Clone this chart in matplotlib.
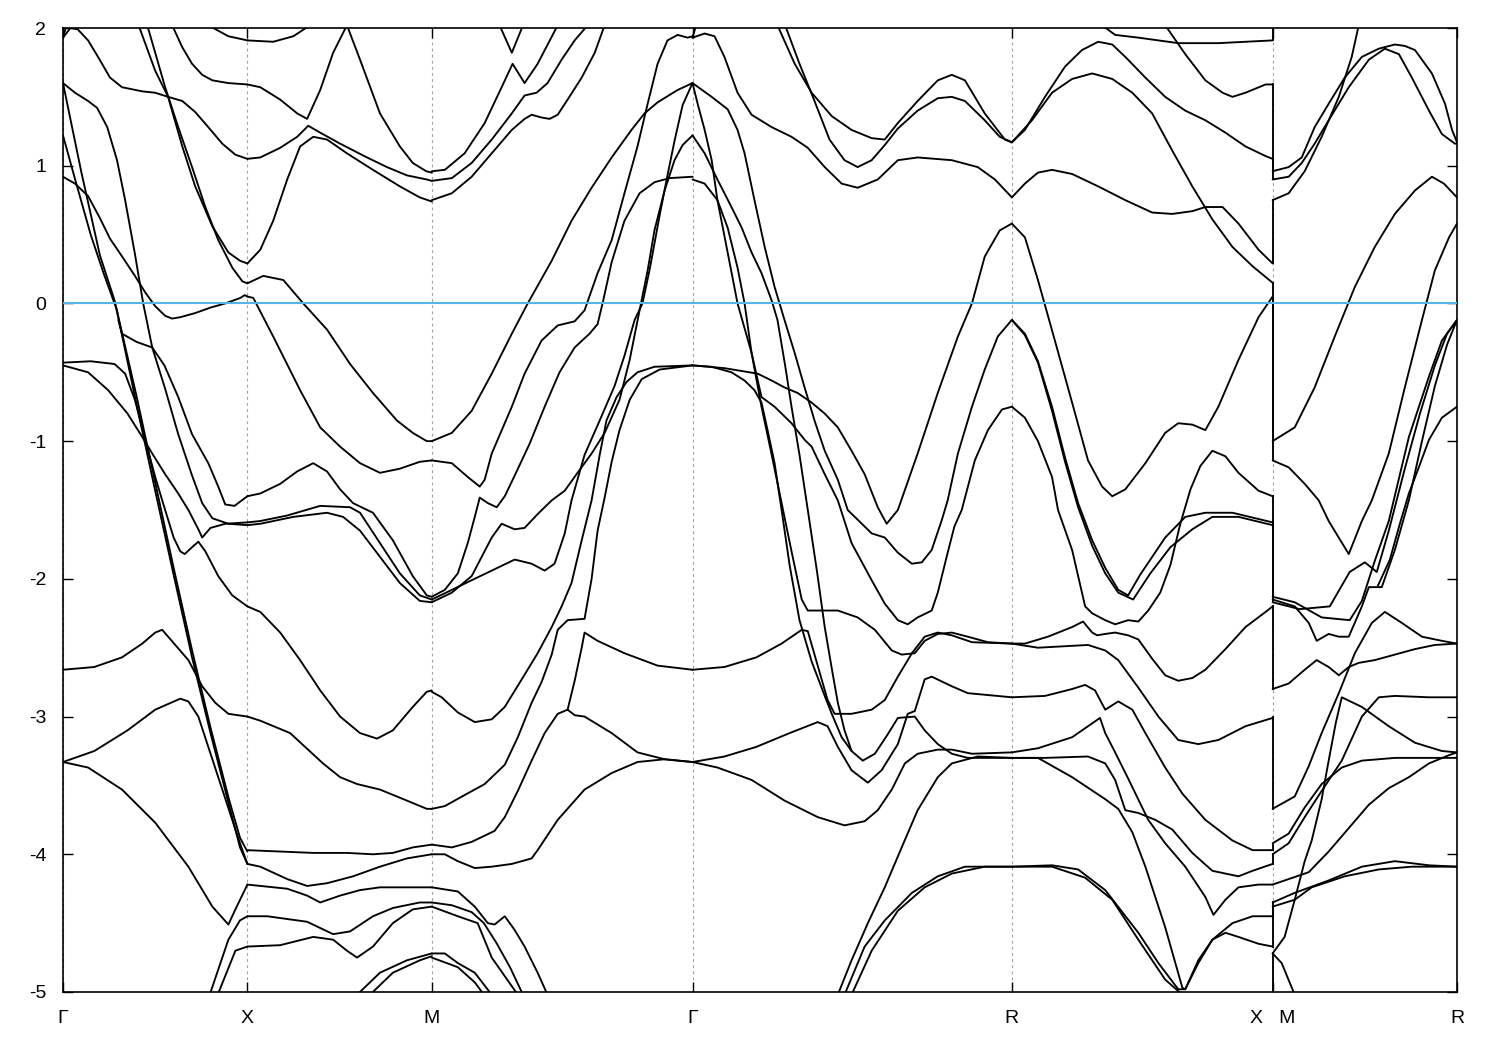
"""Band structure along G-X-M-G-R-X|M-R"""

import numpy as np
import matplotlib
matplotlib.use("Agg")
from matplotlib import pyplot as plt

# path segments, lengths in units of 2pi/a
seg_len = [1.0, 1.0, np.sqrt(2), np.sqrt(3), np.sqrt(2), 1.0]
tick_labels = ["Γ", "X", "M", "Γ", "R", "X   M", "R"]
e_fermi = 0.0

# each band piece: (fraction along segment, energy in eV)
gamma_x = [
    [(0, 1.93), (0.04, 2.0), (0.08, 1.99), (0.136, 1.91), (0.19, 1.79), (0.255, 1.64), (0.32, 1.57),
     (0.43, 1.54), (0.5, 1.53), (0.57, 1.50), (0.647, 1.47), (0.717, 1.39), (0.788, 1.28), (0.864, 1.16),
     (0.935, 1.08), (1, 1.05)],
    [(0, 1.93), (0.025, 2.05)],
    [(0.41, 2.02), (0.5, 1.69), (0.57, 1.5), (0.647, 1.14), (0.717, 0.85), (0.81, 0.56), (0.897, 0.37),
     (0.96, 0.31), (1, 0.29)],
    [(0.457, 2.02), (0.554, 1.57), (0.625, 1.28), (0.70, 0.99), (0.772, 0.70), (0.842, 0.46), (0.918, 0.26),
     (0.973, 0.16), (1, 0.146)],
    [(0.592, 2.02), (0.647, 1.86), (0.70, 1.74), (0.755, 1.66), (0.81, 1.62), (0.897, 1.60), (1, 1.59)],
    [(0.788, 2.02), (0.897, 1.94), (1, 1.91)],
    [(0, 0.92), (0.065, 0.87), (0.136, 0.78), (0.2, 0.62), (0.255, 0.47), (0.326, 0.33), (0.39, 0.2),
     (0.446, 0.08), (0.5, -0.02), (0.554, -0.09), (0.592, -0.11), (0.636, -0.10), (0.717, -0.07),
     (0.80, -0.03), (0.88, 0.0), (0.962, 0.04), (0.985, 0.06), (1, 0.05)],
    [(0, 1.6), (0.065, 1.53), (0.136, 1.47), (0.185, 1.42), (0.24, 1.28), (0.293, 1.04), (0.337, 0.75),
     (0.39, 0.36), (0.435, 0.0), (0.484, -0.32), (0.554, -0.62), (0.625, -0.95), (0.70, -1.25),
     (0.755, -1.45), (0.81, -1.56), (0.897, -1.6), (1, -1.61)],
    [(0, 1.6), (0.1, 0.95), (0.2, 0.35), (0.28, 0.02), (0.4, -0.68), (0.5, -1.3), (0.6, -1.92),
     (0.7, -2.52), (0.8, -3.08), (0.9, -3.6), (0.96, -3.88), (1, -3.98)],
    [(0, 1.22), (0.07, 0.88), (0.15, 0.5), (0.22, 0.22), (0.29, -0.04), (0.4, -0.74), (0.5, -1.36),
     (0.6, -1.97), (0.7, -2.57), (0.8, -3.12), (0.9, -3.64), (0.96, -3.95), (1, -4.07)],
    [(0, -0.43), (0.15, -0.42), (0.28, -0.44), (0.337, -0.51), (0.39, -0.7), (0.446, -0.99), (0.5, -1.26),
     (0.554, -1.5), (0.6, -1.7), (0.636, -1.8), (0.66, -1.82), (0.70, -1.77), (0.734, -1.73),
     (0.772, -1.8), (0.842, -1.98), (0.918, -2.12), (1, -2.2)],
    [(0, -0.45), (0.136, -0.5), (0.245, -0.63), (0.35, -0.8), (0.43, -0.97), (0.484, -1.09), (0.554, -1.24),
     (0.625, -1.38), (0.68, -1.5), (0.734, -1.64), (0.755, -1.70), (0.80, -1.63), (0.88, -1.6), (1, -1.59)],
    [(0.3, -0.12), (0.32, -0.22), (0.40, -0.28), (0.484, -0.32), (0.55, -0.45), (0.625, -0.68),
     (0.70, -0.95), (0.788, -1.16), (0.842, -1.33), (0.88, -1.46), (0.93, -1.47), (1, -1.40)],
    [(0, -2.66), (0.17, -2.64), (0.32, -2.57), (0.43, -2.47), (0.5, -2.39), (0.538, -2.37), (0.609, -2.48),
     (0.68, -2.59), (0.755, -2.78), (0.826, -2.9), (0.897, -2.98), (1, -3.0)],
    [(0, -3.33), (0.17, -3.25), (0.35, -3.1), (0.5, -2.95), (0.636, -2.87), (0.68, -2.89), (0.734, -3.0),
     (0.788, -3.22), (0.864, -3.53), (0.935, -3.82), (0.973, -3.97), (1, -4.07)],
    [(0, -3.33), (0.136, -3.37), (0.32, -3.53), (0.5, -3.77), (0.68, -4.09), (0.81, -4.38), (0.897, -4.51),
     (0.935, -4.4), (1, -4.22)],
    [(0.788, -5.05), (0.897, -4.62), (0.96, -4.48), (1, -4.45)],
    [(0.83, -5.05), (0.935, -4.7), (1, -4.67)],
]

x_m = [
    [(0, 1.91), (0.14, 1.90), (0.249, 1.94), (0.34, 2.02)],
    [(0, 1.59), (0.07, 1.57), (0.178, 1.48), (0.27, 1.38), (0.324, 1.34), (0.395, 1.55), (0.465, 1.82),
     (0.54, 2.02), (0.611, 1.77), (0.719, 1.38), (0.827, 1.14), (0.897, 1.02), (0.97, 0.96), (1, 0.95)],
    [(0, 1.05), (0.07, 1.06), (0.178, 1.13), (0.27, 1.21), (0.33, 1.29), (0.395, 1.24), (0.503, 1.16),
     (0.649, 1.06), (0.757, 0.99), (0.865, 0.93), (0.973, 0.9), (1, 0.89)],
    [(0, 0.29), (0.07, 0.39), (0.14, 0.6), (0.216, 0.9), (0.286, 1.14), (0.357, 1.21), (0.432, 1.19),
     (0.54, 1.09), (0.681, 0.97), (0.827, 0.85), (0.935, 0.77), (1, 0.74)],
    [(0, 0.146), (0.086, 0.2), (0.195, 0.17), (0.303, 0.0), (0.432, -0.19), (0.557, -0.44), (0.681, -0.65),
     (0.811, -0.85), (0.897, -0.94), (0.973, -1.0), (1, -1.0)],
    [(0, 0.05), (0.032, 0.04), (0.14, -0.24), (0.286, -0.63), (0.395, -0.9), (0.503, -1.04), (0.611, -1.16),
     (0.719, -1.23), (0.827, -1.2), (0.935, -1.15), (1, -1.14)],
    [(0, -1.40), (0.07, -1.38), (0.178, -1.31), (0.27, -1.22), (0.357, -1.16), (0.432, -1.22), (0.503, -1.35),
     (0.573, -1.45), (0.681, -1.52), (0.789, -1.72), (0.897, -1.98), (0.973, -2.12), (1, -2.13)],
    [(0, -1.59), (0.07, -1.58), (0.216, -1.54), (0.395, -1.47), (0.557, -1.48), (0.611, -1.52),
     (0.719, -1.74), (0.827, -1.96), (0.935, -2.12), (1, -2.15)],
    [(0, -1.61), (0.07, -1.60), (0.249, -1.55), (0.432, -1.52), (0.519, -1.55), (0.611, -1.65),
     (0.719, -1.84), (0.827, -2.03), (0.935, -2.16), (1, -2.17)],
    [(0, -2.2), (0.07, -2.24), (0.178, -2.39), (0.286, -2.59), (0.395, -2.81), (0.503, -3.0), (0.611, -3.12),
     (0.703, -3.16), (0.789, -3.1), (0.897, -2.93), (0.973, -2.82), (1, -2.81)],
    [(0, -3.0), (0.07, -3.03), (0.232, -3.12), (0.41, -3.34), (0.503, -3.44), (0.595, -3.49), (0.719, -3.53),
     (0.865, -3.61), (0.973, -3.67), (1, -3.67)],
    [(0, -3.97), (0.178, -3.98), (0.357, -3.99), (0.54, -3.99), (0.681, -4.0), (0.789, -3.99),
     (0.897, -3.95), (1, -3.93)],
    [(0, -4.07), (0.07, -4.09), (0.216, -4.18), (0.324, -4.23), (0.432, -4.21), (0.573, -4.16),
     (0.719, -4.09), (0.865, -4.03), (1, -4.0)],
    [(0, -4.22), (0.216, -4.25), (0.324, -4.3), (0.395, -4.35), (0.503, -4.3), (0.611, -4.26),
     (0.719, -4.24), (1, -4.24)],
    [(0, -4.45), (0.108, -4.45), (0.324, -4.49), (0.465, -4.58), (0.557, -4.56), (0.681, -4.45),
     (0.789, -4.39), (0.935, -4.35), (1, -4.35)],
    [(0, -4.67), (0.178, -4.66), (0.357, -4.6), (0.465, -4.62), (0.54, -4.7), (0.595, -4.75),
     (0.681, -4.67), (0.789, -4.5), (0.897, -4.4), (1, -4.38)],
    [(0.595, -5.02), (0.719, -4.86), (0.865, -4.77), (1, -4.72)],
    [(0.665, -5.02), (0.789, -4.86), (0.935, -4.77), (1, -4.74)],
]

m_gamma = [
    [(0, 0.96), (0.05, 0.97), (0.126, 1.09), (0.203, 1.31), (0.268, 1.57), (0.31, 1.74), (0.356, 1.6),
     (0.406, 1.74), (0.483, 2.02)],
    [(0.26, 2.02), (0.307, 1.82), (0.35, 2.02)],
    [(0, 0.89), (0.077, 0.91), (0.153, 1.02), (0.23, 1.19), (0.307, 1.38), (0.356, 1.51), (0.402, 1.53),
     (0.444, 1.6), (0.498, 1.77), (0.548, 1.91), (0.598, 2.02)],
    [(0, 0.75), (0.077, 0.8), (0.153, 0.92), (0.23, 1.09), (0.307, 1.26), (0.356, 1.34), (0.383, 1.37),
     (0.421, 1.35), (0.452, 1.34), (0.483, 1.37), (0.521, 1.48), (0.575, 1.64), (0.625, 1.82), (0.663, 2.02)],
    [(0, -1.0), (0.077, -0.94), (0.153, -0.78), (0.23, -0.51), (0.307, -0.22), (0.368, 0.0), (0.46, 0.31),
     (0.536, 0.6), (0.613, 0.84), (0.69, 1.06), (0.766, 1.26), (0.816, 1.38), (0.866, 1.46), (0.943, 1.55),
     (1, 1.6)],
    [(0, -1.14), (0.077, -1.16), (0.138, -1.26), (0.184, -1.33), (0.203, -1.28), (0.23, -1.09),
     (0.307, -0.75), (0.356, -0.51), (0.421, -0.27), (0.483, -0.16), (0.548, -0.13), (0.586, -0.05),
     (0.636, 0.22), (0.69, 0.46), (0.739, 0.8), (0.789, 1.14), (0.828, 1.45), (0.866, 1.74), (0.904, 1.91),
     (0.943, 1.95), (0.981, 1.93), (1, 1.94)],
    [(0, -2.13), (0.05, -2.08), (0.1, -1.96), (0.138, -1.74), (0.165, -1.55), (0.184, -1.41), (0.215, -1.45),
     (0.249, -1.48), (0.28, -1.4), (0.318, -1.25), (0.375, -1.02), (0.433, -0.75), (0.49, -0.5),
     (0.548, -0.32), (0.605, -0.22), (0.636, -0.15), (0.655, 0.0), (0.69, 0.3), (0.739, 0.6), (0.797, 0.8),
     (0.854, 0.88), (0.912, 0.91), (1, 0.92)],
    [(0, -2.15), (0.077, -2.08), (0.153, -2.01), (0.23, -1.94), (0.318, -1.86), (0.383, -1.89),
     (0.433, -1.94), (0.471, -1.89), (0.51, -1.67), (0.536, -1.43), (0.586, -1.1), (0.644, -0.85),
     (0.701, -0.6), (0.739, -0.38), (0.778, -0.12), (0.808, 0.0), (0.835, 0.24), (0.874, 0.64),
     (0.904, 0.93), (0.931, 1.18), (0.962, 1.44), (1, 1.6)],
    [(0, -2.17), (0.077, -2.1), (0.153, -1.98), (0.23, -1.7), (0.268, -1.6), (0.318, -1.64), (0.356, -1.63),
     (0.406, -1.53), (0.46, -1.43), (0.51, -1.36), (0.559, -1.23), (0.613, -1.09), (0.663, -0.94),
     (0.72, -0.7), (0.759, -0.41), (0.797, -0.05), (0.828, 0.24), (0.854, 0.53), (0.893, 0.82),
     (0.931, 1.04), (0.962, 1.15), (1, 1.22)],
    [(0, -2.82), (0.038, -2.86), (0.1, -2.97), (0.165, -3.04), (0.23, -3.02), (0.28, -2.93), (0.345, -2.73),
     (0.406, -2.54), (0.46, -2.35), (0.498, -2.2), (0.536, -2.03), (0.575, -1.72), (0.613, -1.43),
     (0.644, -1.1), (0.67, -0.85), (0.709, -0.68), (0.747, -0.57), (0.789, -0.5), (0.854, -0.46), (1, -0.45)],
    [(0, -3.67), (0.05, -3.65), (0.126, -3.57), (0.203, -3.49), (0.28, -3.35), (0.33, -3.15), (0.383, -2.9),
     (0.421, -2.75), (0.46, -2.55), (0.483, -2.37), (0.521, -2.3), (0.586, -2.29), (0.613, -2.0),
     (0.636, -1.65), (0.663, -1.41), (0.69, -1.15), (0.72, -0.92), (0.759, -0.7), (0.805, -0.55),
     (0.874, -0.48), (1, -0.45)],
    [(0, -3.93), (0.077, -3.95), (0.153, -3.91), (0.241, -3.83), (0.28, -3.73), (0.33, -3.54),
     (0.383, -3.32), (0.433, -3.12), (0.483, -2.98), (0.521, -2.95), (0.548, -2.99), (0.586, -3.0),
     (0.69, -3.12), (0.789, -3.26), (0.893, -3.31), (1, -3.33)],
    [(0.521, -2.95), (0.548, -2.74), (0.575, -2.5), (0.586, -2.39), (0.636, -2.45), (0.739, -2.54),
     (0.866, -2.63), (1, -2.66)],
    [(0, -4.0), (0.05, -4.0), (0.1, -4.05), (0.165, -4.1), (0.23, -4.09), (0.307, -4.07), (0.383, -4.03),
     (0.406, -3.97), (0.483, -3.75), (0.586, -3.53), (0.69, -3.41), (0.789, -3.33), (0.893, -3.31),
     (1, -3.33)],
    [(0, -4.24), (0.1, -4.27), (0.165, -4.38), (0.215, -4.5), (0.241, -4.51), (0.28, -4.45), (0.318, -4.55),
     (0.356, -4.67), (0.406, -4.86), (0.444, -5.02)],
    [(0, -4.35), (0.077, -4.37), (0.153, -4.42), (0.2, -4.5), (0.25, -4.65), (0.3, -4.82), (0.35, -5.02)],
    [(0, -4.38), (0.1, -4.45), (0.176, -4.5), (0.23, -4.75), (0.33, -5.02)],
    [(0, -4.72), (0.05, -4.72), (0.1, -4.79), (0.165, -4.86), (0.23, -5.02)],
    [(0, -4.75), (0.1, -4.82), (0.165, -4.93), (0.2, -5.02)],
]

gamma_r = [
    [(0, 1.93), (0.038, 1.96), (0.069, 1.94), (0.1, 1.79), (0.141, 1.53), (0.185, 1.37), (0.248, 1.28),
     (0.31, 1.21), (0.361, 1.13), (0.414, 0.99), (0.467, 0.87), (0.517, 0.84), (0.58, 0.9), (0.643, 1.04),
     (0.705, 1.06), (0.812, 1.04), (0.893, 0.99), (0.947, 0.9), (1, 0.77)],
    [(0, 1.93), (0.015, 2.05)],
    [(0.266, 2.02), (0.32, 1.74), (0.373, 1.53), (0.436, 1.36), (0.498, 1.26), (0.561, 1.2), (0.602, 1.19),
     (0.643, 1.31), (0.705, 1.47), (0.768, 1.62), (0.812, 1.66), (0.853, 1.62), (0.915, 1.38),
     (0.978, 1.19), (1, 1.17)],
    [(0.29, 2.02), (0.335, 1.74), (0.382, 1.47), (0.429, 1.19), (0.476, 1.04), (0.517, 0.99), (0.561, 1.04),
     (0.602, 1.15), (0.643, 1.27), (0.705, 1.4), (0.768, 1.49), (0.812, 1.5), (0.853, 1.47), (0.915, 1.33),
     (0.962, 1.21), (1, 1.17)],
    [(0, 1.6), (0.06, 1.5), (0.11, 1.41), (0.141, 1.26), (0.163, 1.09), (0.194, 0.75), (0.226, 0.41),
     (0.257, 0.12), (0.288, -0.12), (0.32, -0.36), (0.351, -0.61), (0.382, -0.85), (0.414, -1.07),
     (0.455, -1.28), (0.486, -1.5), (0.517, -1.57), (0.561, -1.67), (0.602, -1.7), (0.643, -1.81),
     (0.687, -1.89), (0.718, -1.88), (0.749, -1.79), (0.781, -1.57), (0.799, -1.43), (0.831, -1.09),
     (0.875, -0.75), (0.915, -0.48), (0.956, -0.24), (1, -0.12)],
    [(0, 1.22), (0.038, 1.09), (0.078, 0.9), (0.122, 0.7), (0.154, 0.55), (0.185, 0.37), (0.216, 0.22),
     (0.248, 0.02), (0.266, -0.12), (0.29, -0.45), (0.31, -0.75), (0.335, -1.1), (0.361, -1.5),
     (0.39, -1.95), (0.414, -2.35), (0.436, -2.65), (0.455, -2.9), (0.476, -3.1), (0.498, -3.25)],
    [(0, 1.6), (0.016, 1.45), (0.038, 1.26), (0.06, 1.04), (0.078, 0.75), (0.11, 0.37), (0.141, 0.0),
     (0.185, -0.36), (0.216, -0.75), (0.248, -1.1), (0.279, -1.45), (0.31, -1.8), (0.342, -2.15),
     (0.361, -2.23), (0.455, -2.23), (0.517, -2.28), (0.571, -2.37), (0.624, -2.52), (0.655, -2.55),
     (0.696, -2.54), (0.727, -2.45), (0.768, -2.4), (0.812, -2.39), (0.862, -2.42), (0.925, -2.46),
     (1, -2.47)],
    [(0, 0.9), (0.038, 0.87), (0.078, 0.75), (0.11, 0.55), (0.141, 0.26), (0.163, 0.0), (0.185, -0.36),
     (0.216, -0.68), (0.257, -0.75), (0.31, -0.87), (0.351, -0.99), (0.373, -1.04), (0.414, -1.24),
     (0.455, -1.43), (0.498, -1.74), (0.561, -2.01), (0.602, -2.18), (0.643, -2.3), (0.674, -2.33),
     (0.705, -2.28), (0.749, -2.23), (0.768, -2.1), (0.799, -1.81), (0.82, -1.62), (0.843, -1.5),
     (0.884, -1.14), (0.925, -0.92), (0.969, -0.77), (1, -0.75)],
    [(0, -0.45), (0.06, -0.46), (0.122, -0.5), (0.163, -0.56), (0.194, -0.63), (0.216, -0.72),
     (0.235, -0.92), (0.257, -1.16), (0.279, -1.5), (0.304, -1.9), (0.335, -2.3), (0.373, -2.6),
     (0.414, -2.85), (0.436, -2.98), (0.467, -3.15), (0.498, -3.25), (0.533, -3.32), (0.571, -3.27),
     (0.611, -3.13), (0.643, -3.01), (0.696, -3.0), (0.727, -3.1), (0.768, -3.2), (0.812, -3.27),
     (0.862, -3.3), (1, -3.3)],
    [(0, -0.45), (0.1, -0.47), (0.204, -0.51), (0.248, -0.56), (0.288, -0.61), (0.329, -0.65),
     (0.373, -0.72), (0.414, -0.8), (0.455, -0.9), (0.498, -1.07), (0.539, -1.24), (0.58, -1.48),
     (0.608, -1.6), (0.643, -1.5), (0.705, -1.09), (0.768, -0.65), (0.831, -0.24), (0.875, 0.0),
     (0.915, 0.34), (0.962, 0.53), (1, 0.58)],
    [(0, -2.66), (0.1, -2.64), (0.2, -2.57), (0.279, -2.47), (0.342, -2.37), (0.361, -2.38), (0.392, -2.63),
     (0.423, -2.88), (0.445, -2.98), (0.498, -2.98), (0.561, -2.95), (0.602, -2.88), (0.643, -2.71),
     (0.687, -2.54), (0.727, -2.42), (0.768, -2.39), (0.812, -2.41), (0.875, -2.46), (1, -2.47)],
    [(0, -3.33), (0.1, -3.29), (0.2, -3.22), (0.304, -3.12), (0.392, -3.04), (0.423, -3.07), (0.455, -3.22),
     (0.498, -3.39), (0.549, -3.48), (0.592, -3.39), (0.643, -3.2), (0.674, -2.98), (0.696, -2.96),
     (0.727, -2.73), (0.749, -2.71), (0.812, -2.78), (0.862, -2.83), (1, -2.86)],
    [(0, -3.33), (0.078, -3.37), (0.185, -3.46), (0.288, -3.61), (0.392, -3.73), (0.476, -3.79),
     (0.539, -3.76), (0.58, -3.68), (0.624, -3.53), (0.665, -3.34), (0.705, -3.27), (0.768, -3.24),
     (0.812, -3.24), (0.875, -3.27), (1, -3.26)],
    [(0.455, -5.02), (0.498, -4.77), (0.549, -4.5), (0.602, -4.24), (0.655, -3.95), (0.705, -3.68),
     (0.768, -3.44), (0.812, -3.34), (0.893, -3.29), (1, -3.3)],
    [(0.476, -5.02), (0.539, -4.67), (0.602, -4.48), (0.687, -4.28), (0.768, -4.16), (0.853, -4.09),
     (1, -4.09)],
    [(0.498, -5.02), (0.561, -4.7), (0.643, -4.41), (0.727, -4.24), (0.812, -4.14), (0.915, -4.09),
     (1, -4.09)],
]

r_x = [
    [(0, 1.17), (0.05, 1.26), (0.127, 1.5), (0.204, 1.72), (0.269, 1.84), (0.331, 1.9), (0.385, 1.88),
     (0.435, 1.79), (0.512, 1.64), (0.588, 1.5), (0.665, 1.4), (0.742, 1.33), (0.819, 1.24), (0.896, 1.14),
     (0.973, 1.07), (1, 1.05)],
    [(0, 1.17), (0.077, 1.33), (0.154, 1.53), (0.231, 1.63), (0.308, 1.67), (0.385, 1.63), (0.462, 1.53),
     (0.538, 1.38), (0.615, 1.11), (0.692, 0.85), (0.769, 0.61), (0.846, 0.41), (0.923, 0.27), (1, 0.15)],
    [(0.346, 2.02), (0.396, 1.95), (0.485, 1.93), (0.638, 1.89), (0.792, 1.89), (1, 1.91)],
    [(0.588, 2.02), (0.665, 1.81), (0.742, 1.62), (0.808, 1.53), (0.846, 1.5), (0.896, 1.53), (0.973, 1.59),
     (1, 1.59)],
    [(0, 0.77), (0.05, 0.87), (0.1, 0.95), (0.154, 0.97), (0.231, 0.94), (0.331, 0.85), (0.435, 0.75),
     (0.538, 0.66), (0.615, 0.65), (0.692, 0.67), (0.742, 0.7), (0.808, 0.7), (0.869, 0.58), (0.946, 0.39),
     (1, 0.29)],
    [(0, 0.58), (0.05, 0.48), (0.1, 0.17), (0.165, -0.27), (0.231, -0.72), (0.292, -1.14), (0.346, -1.33),
     (0.385, -1.4), (0.435, -1.35), (0.512, -1.16), (0.588, -0.94), (0.638, -0.87), (0.692, -0.88),
     (0.742, -0.92), (0.792, -0.75), (0.869, -0.41), (0.946, -0.1), (1, 0.05)],
    [(0, -0.75), (0.05, -0.83), (0.1, -1.0), (0.154, -1.26), (0.177, -1.5), (0.231, -1.79), (0.281, -2.2),
     (0.308, -2.25), (0.358, -2.3), (0.396, -2.33), (0.446, -2.3), (0.485, -2.31), (0.523, -2.23),
     (0.569, -2.1), (0.608, -1.9), (0.646, -1.6), (0.685, -1.35), (0.723, -1.18), (0.769, -1.07),
     (0.819, -1.11), (0.869, -1.23), (0.946, -1.36), (1, -1.40)],
    [(0, -0.12), (0.05, -0.22), (0.1, -0.42), (0.154, -0.75), (0.204, -1.12), (0.254, -1.45), (0.308, -1.72),
     (0.358, -1.92), (0.408, -2.08), (0.446, -2.12), (0.492, -1.97), (0.588, -1.7), (0.665, -1.55),
     (0.742, -1.52), (0.846, -1.52), (1, -1.59)],
    [(0, -0.12), (0.05, -0.23), (0.1, -0.43), (0.154, -0.78), (0.204, -1.15), (0.254, -1.48), (0.308, -1.76),
     (0.358, -1.96), (0.408, -2.1), (0.465, -2.15), (0.531, -1.96), (0.608, -1.77), (0.692, -1.64),
     (0.769, -1.55), (0.869, -1.55), (1, -1.61)],
    [(0, -2.47), (0.05, -2.47), (0.138, -2.42), (0.231, -2.35), (0.273, -2.31), (0.308, -2.39),
     (0.327, -2.41), (0.358, -2.4), (0.396, -2.39), (0.446, -2.41), (0.485, -2.44), (0.538, -2.58),
     (0.588, -2.7), (0.638, -2.74), (0.692, -2.72), (0.742, -2.66), (0.819, -2.51), (0.896, -2.35),
     (0.973, -2.24), (1, -2.2)],
    [(0, -2.47), (0.1, -2.5), (0.292, -2.48), (0.358, -2.52), (0.408, -2.59), (0.485, -2.79), (0.562, -3.0),
     (0.638, -3.17), (0.715, -3.2), (0.792, -3.17), (0.896, -3.07), (1, -3.01)],
    [(0, -2.86), (0.127, -2.85), (0.231, -2.8), (0.281, -2.77), (0.319, -2.81), (0.358, -2.95),
     (0.408, -2.89), (0.462, -2.95), (0.512, -3.12), (0.588, -3.37), (0.654, -3.56), (0.742, -3.75),
     (0.846, -3.9), (0.923, -3.97), (1, -3.97)],
    [(0, -3.26), (0.1, -3.23), (0.231, -3.15), (0.338, -3.01), (0.358, -3.12), (0.396, -3.26),
     (0.446, -3.45), (0.523, -3.75), (0.588, -3.92), (0.665, -4.09), (0.742, -4.31), (0.773, -4.44),
     (0.819, -4.33), (0.869, -4.24), (0.946, -4.22), (1, -4.22)],
    [(0, -3.3), (0.127, -3.3), (0.292, -3.29), (0.358, -3.34), (0.396, -3.46), (0.435, -3.68),
     (0.485, -3.7), (0.55, -3.75), (0.615, -3.82), (0.692, -3.99), (0.769, -4.12), (0.869, -4.16),
     (0.923, -4.12), (1, -4.07)],
    [(0, -3.3), (0.1, -3.3), (0.231, -3.44), (0.358, -3.6), (0.408, -3.67), (0.462, -3.84), (0.512, -4.09),
     (0.588, -4.53), (0.654, -4.97), (0.665, -4.98), (0.715, -4.77), (0.769, -4.62), (0.819, -4.57),
     (0.869, -4.6), (0.946, -4.65), (1, -4.67)],
    [(0, -4.09), (0.154, -4.08), (0.254, -4.11), (0.358, -4.26), (0.485, -4.57), (0.562, -4.79),
     (0.638, -4.98), (0.665, -4.98), (0.715, -4.79), (0.769, -4.62), (0.846, -4.5), (0.923, -4.45),
     (1, -4.45)],
    [(0, -4.09), (0.154, -4.09), (0.281, -4.17), (0.385, -4.33), (0.485, -4.62), (0.588, -4.91),
     (0.654, -5.02)],
]

m_r = [
    [(0, 0.96), (0.087, 0.99), (0.158, 1.06), (0.228, 1.28), (0.304, 1.45), (0.391, 1.64), (0.484, 1.79),
     (0.576, 1.85), (0.663, 1.88), (0.717, 1.87), (0.772, 1.84), (0.864, 1.67), (0.935, 1.45),
     (0.973, 1.26), (1, 1.17)],
    [(0, 0.9), (0.087, 0.92), (0.158, 1.02), (0.228, 1.16), (0.304, 1.33), (0.413, 1.57), (0.522, 1.77),
     (0.609, 1.85), (0.685, 1.81), (0.755, 1.64), (0.848, 1.4), (0.918, 1.23), (0.989, 1.16), (1, 1.16)],
    [(0, 0.75), (0.087, 0.8), (0.174, 0.96), (0.266, 1.21), (0.359, 1.5), (0.429, 1.79), (0.467, 2.02)],
    [(0, -1.0), (0.12, -0.9), (0.228, -0.61), (0.337, -0.24), (0.446, 0.12), (0.554, 0.41), (0.663, 0.65),
     (0.772, 0.82), (0.864, 0.92), (0.929, 0.87), (1, 0.77)],
    [(0, -1.14), (0.087, -1.19), (0.174, -1.31), (0.25, -1.43), (0.304, -1.58), (0.413, -1.82),
     (0.484, -1.58), (0.538, -1.43), (0.63, -1.09), (0.717, -0.61), (0.81, -0.12), (0.88, 0.24),
     (0.957, 0.48), (1, 0.58)],
    [(0, -2.13), (0.12, -2.17), (0.266, -2.28), (0.418, -2.3), (0.484, -2.16), (0.554, -1.87),
     (0.63, -1.58), (0.739, -0.97), (0.848, -0.53), (0.918, -0.27), (1, -0.12)],
    [(0, -2.15), (0.12, -2.2), (0.196, -2.32), (0.239, -2.45), (0.304, -2.4), (0.359, -2.42), (0.413, -2.42),
     (0.484, -2.2), (0.522, -2.06), (0.592, -2.06), (0.663, -1.79), (0.739, -1.43), (0.81, -1.0),
     (0.88, -0.6), (0.946, -0.3), (1, -0.12)],
    [(0, -2.17), (0.147, -2.22), (0.31, -2.2), (0.418, -1.95), (0.5, -1.88), (0.565, -1.95), (0.63, -1.65),
     (0.717, -1.2), (0.799, -0.8), (0.88, -0.45), (0.946, -0.22), (1, -0.12)],
    [(1, -0.75), (0.918, -0.83), (0.848, -0.99), (0.793, -1.19), (0.739, -1.38), (0.69, -1.6),
     (0.636, -1.86), (0.571, -2.05)],
    [(0, -2.8), (0.087, -2.76), (0.174, -2.66), (0.239, -2.59), (0.304, -2.64), (0.359, -2.7),
     (0.413, -2.64), (0.467, -2.61), (0.554, -2.59), (0.663, -2.55), (0.772, -2.51), (0.88, -2.48),
     (1, -2.47)],
    [(0, -3.67), (0.12, -3.58), (0.196, -3.36), (0.266, -3.12), (0.359, -2.83), (0.446, -2.54),
     (0.538, -2.32), (0.609, -2.24), (0.701, -2.32), (0.81, -2.42), (0.918, -2.45), (1, -2.47)],
    [(0, -3.92), (0.087, -3.85), (0.174, -3.66), (0.266, -3.49), (0.375, -3.37), (0.484, -3.32),
     (0.663, -3.3), (0.81, -3.3), (1, -3.3)],
    [(0, -4.0), (0.087, -3.92), (0.174, -3.73), (0.266, -3.54), (0.375, -3.32), (0.484, -3.0),
     (0.576, -2.86), (0.663, -2.85), (0.848, -2.86), (1, -2.86)],
    [(0, -4.72), (0.065, -4.6), (0.12, -4.33), (0.174, -4.05), (0.212, -3.9), (0.266, -3.6), (0.304, -3.32),
     (0.342, -3.05), (0.375, -2.86), (0.484, -2.93), (0.63, -3.07), (0.772, -3.19), (0.918, -3.25),
     (1, -3.26)],
    [(0, -4.22), (0.196, -4.13), (0.304, -3.98), (0.413, -3.81), (0.522, -3.64), (0.63, -3.52),
     (0.739, -3.44), (0.848, -3.34), (0.957, -3.28), (1, -3.26)],
    [(0, -4.35), (0.12, -4.28), (0.304, -4.19), (0.484, -4.09), (0.663, -4.05), (0.848, -4.08), (1, -4.09)],
    [(0, -4.38), (0.12, -4.33), (0.212, -4.24), (0.391, -4.16), (0.576, -4.11), (0.755, -4.09), (1, -4.09)],
    [(0, -4.72), (0.049, -4.79), (0.12, -5.02)],
]

# band energies joined at the X|M break: (energy at X, energy at M)
xm_jump = [(1.91, 2.3), (1.59, 0.96), (1.05, 0.9), (0.29, 0.75), (0.15, -1.0), (0.05, -1.14),
           (-1.40, -2.13), (-1.59, -2.15), (-1.61, -2.17), (-2.2, -2.8), (-3.0, -3.67), (-3.97, -3.93),
           (-4.07, -4.0), (-4.22, -4.22), (-4.45, -4.35), (-4.67, -4.38), (-5.3, -4.72)]

segments = [gamma_x, x_m, m_gamma, gamma_r, r_x, m_r]


def band_plot():
    """Draw the band structure and save it"""

    plt.rcParams['font.family'] = ['Liberation Sans', 'DejaVu Sans']
    plt.rcParams['axes.unicode_minus'] = False
    k_nodes = np.concatenate([[0.0], np.cumsum(seg_len)])

    fig = plt.figure(figsize=(15, 10.5), dpi=100)
    ax = fig.add_axes([63 / 1500, 58 / 1050, 1394 / 1500, 964 / 1050])

    for k0, length, bands in zip(k_nodes[:-1], seg_len, segments):
        for band in bands:
            t, e = np.array(band).T
            ax.plot(k0 + t * length, e, color='black', lw=1.35, zorder=2,
                    solid_joinstyle='round', solid_capstyle='round')

    # vertical joins where the path jumps from X to M
    k_break = k_nodes[5]
    for e_x, e_m in xm_jump:
        ax.plot([k_break, k_break], [e_x, e_m], color='black', lw=1.35, zorder=2)

    ax.axhline(e_fermi, color='#56b4e9', lw=1.5, zorder=3)

    ax.set_xlim(k_nodes[0], k_nodes[-1])
    ax.set_ylim(-5, 2)
    ax.set_xticks(k_nodes)
    ax.set_xticklabels(tick_labels)
    ax.set_yticks(np.arange(-5, 3, 1))
    ax.grid(axis='x', color='#a0a0a0', lw=0.8, ls=(0, (2.5, 3)), zorder=1)
    ax.tick_params(direction='in', top=True, right=True, length=7, width=1.0, labelsize=14)
    ax.tick_params(axis='x', pad=13)
    ax.tick_params(axis='y', pad=12)
    for spine in ax.spines.values():
        spine.set_linewidth(1.2)

    fig.savefig("out.png", dpi=100)


if __name__ == "__main__":
    band_plot()
